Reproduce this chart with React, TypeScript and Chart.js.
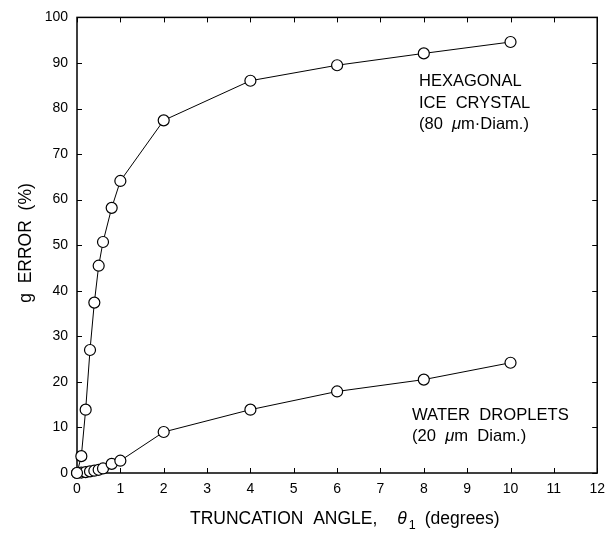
import React, { useEffect, useRef } from "react";
import { Chart, registerables } from "chart.js";

Chart.register(...registerables);

// Truncation angle (degrees)
const angles = [0, 0.1, 0.2, 0.3, 0.4, 0.5, 0.6, 0.8, 1, 2, 4, 6, 8, 10];
// g error (%) for the 80 µm hexagonal ice crystal
const iceCrystalError = [0, 3.7, 13.9, 27.0, 37.4, 45.5, 50.7, 58.2, 64.1, 77.4, 86.1, 89.5, 92.1, 94.6];
// g error (%) for the 20 µm water droplets
const waterDropletError = [0, 0.1, 0.2, 0.35, 0.5, 0.7, 1.0, 2.0, 2.7, 9.0, 13.9, 17.9, 20.5, 24.2];

const xMin = 0;
const xMax = 12;
const xStep = 1;
const yMin = 0;
const yMax = 100;
const yStep = 10;

const FONT = '"Liberation Sans", Arial, Helvetica, sans-serif';

function drawRuns(
  ctx: CanvasRenderingContext2D,
  x: number,
  y: number,
  runs: { t: string; italic?: boolean; size: number; dy?: number; gap?: number }[],
  align: "left" | "center"
) {
  let total = 0;
  const widths = runs.map((r) => {
    ctx.font = `${r.italic ? "italic " : ""}${r.size}px ${FONT}`;
    const w = ctx.measureText(r.t).width + (r.gap || 0);
    total += w;
    return w;
  });
  let cx = align === "center" ? x - total / 2 : x;
  runs.forEach((r, i) => {
    ctx.font = `${r.italic ? "italic " : ""}${r.size}px ${FONT}`;
    ctx.fillText(r.t, cx, y + (r.dy || 0));
    cx += widths[i];
  });
}

const framePlugin = {
  id: "frameAndTicks",
  beforeDatasetsDraw(chart: any) {
    const { ctx, chartArea } = chart;
    const { left, right, top, bottom } = chartArea;
    const xs = chart.scales.x;
    const ys = chart.scales.y;
    ctx.save();
    ctx.strokeStyle = "#000";
    ctx.lineWidth = 1.5;
    ctx.strokeRect(left, top, right - left, bottom - top);
    ctx.lineWidth = 1;
    const tl = 5;
    ctx.beginPath();
    for (let v = xMin; v <= xMax; v += xStep) {
      const px = Math.round(xs.getPixelForValue(v)) + 0.5;
      ctx.moveTo(px, bottom);
      ctx.lineTo(px, bottom - tl);
      ctx.moveTo(px, top);
      ctx.lineTo(px, top + tl);
    }
    for (let v = yMin; v <= yMax; v += yStep) {
      const py = Math.round(ys.getPixelForValue(v)) + 0.5;
      ctx.moveTo(left, py);
      ctx.lineTo(left + tl, py);
      ctx.moveTo(right, py);
      ctx.lineTo(right - tl, py);
    }
    ctx.stroke();
    ctx.restore();
  },
  afterDraw(chart: any) {
    const { ctx } = chart;
    ctx.save();
    ctx.fillStyle = "#000";
    ctx.textBaseline = "alphabetic";
    ctx.textAlign = "left";

    // X axis title
    drawRuns(
      ctx,
      190,
      524,
      [
        { t: "TRUNCATION  ANGLE,", size: 17.5, gap: 20 },
        { t: "θ", italic: true, size: 17.5, gap: 2 },
        { t: "1", size: 12.5, dy: 5, gap: 9 },
        { t: "(degrees)", size: 17.5 },
      ],
      "left"
    );

    // Y axis title
    ctx.save();
    ctx.translate(31, 243);
    ctx.rotate(-Math.PI / 2);
    ctx.font = `17.5px ${FONT}`;
    ctx.textAlign = "center";
    ctx.fillText("g  ERROR  (%)", 0, 0);
    ctx.restore();

    ctx.textAlign = "left";
    // Annotations
    drawRuns(ctx, 419, 86, [{ t: "HEXAGONAL", size: 16.5 }], "left");
    drawRuns(ctx, 419, 107.5, [{ t: "ICE  CRYSTAL", size: 16.5 }], "left");
    drawRuns(
      ctx,
      419,
      129,
      [
        { t: "(80  ", size: 16.5 },
        { t: "μ", italic: true, size: 16.5 },
        { t: "m·Diam.)", size: 16.5 },
      ],
      "left"
    );
    drawRuns(ctx, 412, 420, [{ t: "WATER  DROPLETS", size: 16.6 }], "left");
    drawRuns(
      ctx,
      412,
      441,
      [
        { t: "(20  ", size: 16.6 },
        { t: "μ", italic: true, size: 16.6 },
        { t: "m  Diam.)", size: 16.6 },
      ],
      "left"
    );
    ctx.restore();
  },
};

export default function App() {
  const canvasRef = useRef<HTMLCanvasElement | null>(null);

  useEffect(() => {
    document.body.style.margin = "0";
    const canvas = canvasRef.current;
    if (!canvas) return;
    const mk = (ys: number[]) => angles.map((a, i) => ({ x: a, y: ys[i] }));
    const pointStyle = {
      showLine: true,
      borderColor: "#000",
      borderWidth: 1,
      pointRadius: 5.5,
      pointHoverRadius: 5.5,
      pointBackgroundColor: "#fff",
      pointBorderColor: "#000",
      pointBorderWidth: 1.2,
      clip: false as const,
      tension: 0,
    };
    const chart = new Chart(canvas, {
      type: "scatter",
      data: {
        datasets: [
          { label: "Hexagonal ice crystal (80 μm)", data: mk(iceCrystalError), ...pointStyle },
          { label: "Water droplets (20 μm)", data: mk(waterDropletError), ...pointStyle },
        ],
      },
      options: {
        animation: false,
        responsive: false,
        maintainAspectRatio: false,
        events: [],
        layout: { padding: { left: 0, right: 13, top: 14, bottom: 0 } },
        plugins: {
          legend: { display: false },
          tooltip: { enabled: false },
          title: { display: false },
        },
        scales: {
          x: {
            type: "linear",
            min: xMin,
            max: xMax,
            grid: { display: false, drawTicks: false },
            border: { display: false },
            ticks: {
              stepSize: xStep,
              color: "#000",
              font: { family: FONT, size: 14 },
              padding: 8,
              maxRotation: 0,
              autoSkip: false,
            },
            afterFit(scale: any) {
              scale.height = 62;
            },
          },
          y: {
            type: "linear",
            min: yMin,
            max: yMax,
            grid: { display: false, drawTicks: false },
            border: { display: false },
            ticks: {
              stepSize: yStep,
              color: "#000",
              font: { family: FONT, size: 14 },
              padding: 9,
              autoSkip: false,
            },
            afterFit(scale: any) {
              scale.width = 77;
            },
          },
        },
      },
      plugins: [framePlugin],
    });
    return () => chart.destroy();
  }, []);

  return (
    <div style={{ position: "absolute", left: 0, top: 0, width: 613, height: 535, background: "#fff" }}>
      <canvas ref={canvasRef} width={613} height={535} style={{ width: 613, height: 535 }} />
    </div>
  );
}
